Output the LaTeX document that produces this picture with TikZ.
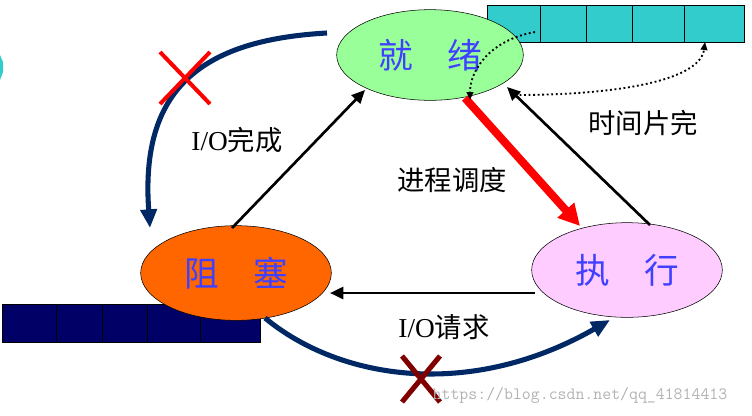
\documentclass[tikz,border=0pt]{standalone}
\usepackage{fontspec}
\setmainfont{Liberation Serif}
\newfontfamily\cjk{Noto Sans CJK SC}
\usetikzlibrary{arrows.meta,shapes.geometric}
\definecolor{qcyan}{RGB}{51,204,204}
\definecolor{qnavy}{RGB}{0,0,102}
\definecolor{cnavy}{RGB}{0,40,100}
\definecolor{cgreen}{RGB}{153,255,153}
\definecolor{corange}{RGB}{255,102,0}
\definecolor{cpink}{RGB}{255,204,255}
\definecolor{cdred}{RGB}{128,0,0}
\begin{document}
\begin{tikzpicture}[x=0.75pt,y=-0.75pt,
 lbl/.style={font=\cjk\fontsize{20.5}{24}\selectfont},
 stl/.style={font=\cjk\fontsize{26}{30}\selectfont,text=blue!75!white},
 arr/.style={line width=2pt,-{Triangle[length=10pt,width=9pt]}},
 navy/.style={line width=3.8pt,draw=cnavy,-{Triangle[length=14pt,width=12pt]}},
 dots/.style={dotted,line width=1.4pt,-{Triangle[length=6pt,width=5pt]}}]
\useasboundingbox (0,0) rectangle (752,415);
% queues
\fill[qcyan] (487,5) rectangle (744,42);
\draw (487,5) rectangle (744,42);
\foreach \x in {540,586,632,684} \draw (\x,5)--(\x,42);
\fill[qnavy] (2,304) rectangle (260,342);
\draw (2,304) rectangle (260,342);
\foreach \x in {56,102,147,200} \draw (\x,304)--(\x,342);
\fill[qcyan] (0,55) -- (0,80) -- (3,72) -- (3,62) -- cycle;
% states
\node[draw,ellipse,fill=cgreen,minimum width=140pt,minimum height=68pt] (r) at (430,55) {};
\node[stl] at (r) {就\quad 绪};
\node[draw,ellipse,fill=corange,minimum width=143pt,minimum height=71pt] (b) at (236,273) {};
\node[stl] at (b) {阻\quad 塞};
\node[draw,ellipse,fill=cpink,minimum width=143pt,minimum height=71pt] (e) at (627,270) {};
\node[stl] at (e) {执\quad 行};
% coordinates
\coordinate (b1) at (232,228); \coordinate (r1) at (365,90);
\coordinate (e1) at (650,225); \coordinate (r2) at (507,87);
\coordinate (e2) at (535,293); \coordinate (b2) at (330,293);
\coordinate (r3) at (465,98); \coordinate (e3) at (580,226);
\coordinate (n1) at (327,33); \coordinate (n2) at (150,228);
\coordinate (n3) at (265,318); \coordinate (n4) at (610,320);
\coordinate (q1) at (535,32); \coordinate (q2) at (470,100);
\coordinate (q3) at (515,95); \coordinate (q4) at (705,42);
\draw[arr] (b1)--(r1);
\draw[arr] (e1)--(r2);
\draw[arr] (e2)--(b2);
\draw[line width=6pt,red,-{Triangle[length=16pt,width=16pt]}] (r3)--(e3);
\draw[navy] (n1) .. controls (200,40) and (140,90) .. (n2);
\draw[navy] (n3) .. controls (340,380) and (470,400) .. (n4);
\draw[dots] (q1) .. controls (490,40) and (470,70) .. (q2);
\draw[dots] (q3) .. controls (620,95) and (700,80) .. (q4);
% crosses
\draw[red,line width=3pt] (160,52)--(210,104) (160,104)--(210,52);
\draw[cdred,line width=3.8pt] (402,356)--(440,402) (402,402)--(440,356);
% labels
\node[lbl] (l1) at (237,140) {\rmfamily I/O\cjk 完成};
\node[lbl] (l2) at (452,180) {进程调度};
\node[lbl] (l3) at (643,123) {时间片完};
\node[lbl] (l4) at (444,327) {\rmfamily I/O\cjk 请求};
\node[text=gray!60,font=\fontsize{13}{15}\selectfont\ttfamily] (w) at (580,395) {https://blog.csdn.net/qq\_41814413};
\end{tikzpicture}
\end{document}
